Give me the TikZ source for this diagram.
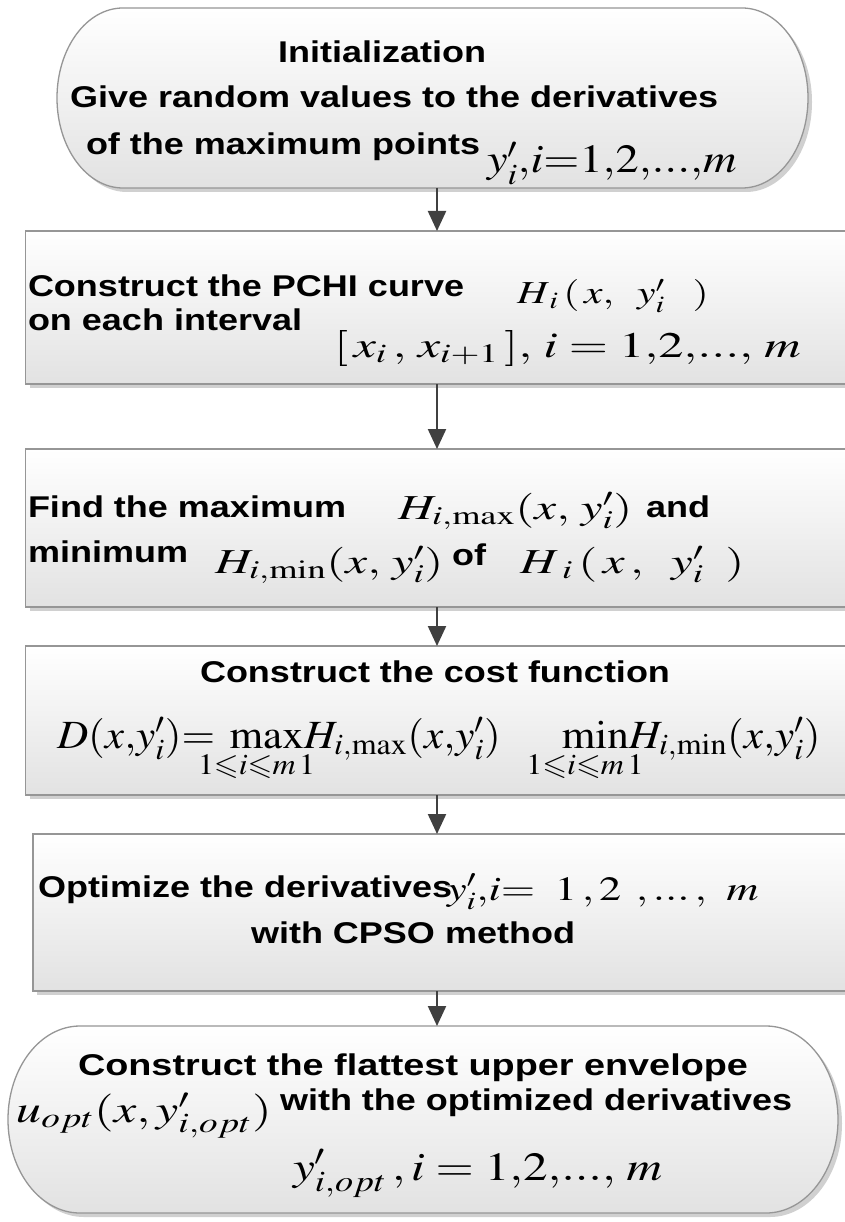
\documentclass[tikz,border=0pt]{standalone}
\usepackage{amssymb}
\usepackage{mathptmx}
\usepackage[no-math]{fontspec}
\setmainfont{Liberation Sans}
\usepackage{graphicx}
\usetikzlibrary{arrows.meta}
\definecolor{edgec}{RGB}{150,150,150}
\definecolor{fillc}{RGB}{226,226,226}
\definecolor{shadowc}{RGB}{208,208,208}
\definecolor{arrc}{RGB}{64,64,64}
\newcommand{\wx}[2][1.2]{\scalebox{#1}[1]{#2}}
\newcommand{\myfs}[1]{\fontsize{#1}{#1}\selectfont}
\newcommand{\lsub}[2]{\rlap{$\scriptstyle\hspace{#1}#2$}}
\tikzset{
  shbox/.style={preaction={fill=shadowc, transform canvas={xshift=4pt,yshift=-4pt}}},
  procbox/.style={shbox, draw=edgec, line width=1.3pt, top color=white, bottom color=fillc,
                  inner sep=0pt, outer sep=0pt, anchor=north west, rectangle},
  termshape/.style={shbox, draw=edgec, line width=1.3pt, top color=white, bottom color=fillc},
  framebox/.style={inner sep=0pt, outer sep=0pt, anchor=north west, draw=none, rectangle},
  arr/.style={draw=arrc, line width=2.2pt, -{Triangle[length=20pt,width=18pt]}},
  lab/.style={inner sep=0pt, outer sep=0pt, font=\bfseries\myfs{30}},
  mth/.style={inner sep=0pt, outer sep=0pt, font=\myfs{#1}},
}
\begin{document}
\begin{tikzpicture}[x=1pt,y=-1pt]
\fill[white] (0,0) rectangle (844,1222);
\useasboundingbox (0,0) rectangle (844,1222);

% ---- shapes ----
\node[framebox, minimum width=751pt, minimum height=180pt] (t1) at (57,8) {};
\path[termshape] (123,8) -- (742,8) arc[start angle=-90,end angle=90,x radius=66,y radius=90]
   -- (123,188) arc[start angle=90,end angle=270,x radius=66,y radius=90] -- cycle;

\node[procbox, minimum width=830pt, minimum height=153pt] (b2) at (25.7,231) {};
\node[procbox, minimum width=830pt, minimum height=158pt] (b3) at (25.7,449) {};
\node[procbox, minimum width=830pt, minimum height=149pt] (b4) at (25.7,646) {};
\node[procbox, minimum width=830pt, minimum height=157pt] (b5) at (33,834) {};

\node[framebox, minimum width=830pt, minimum height=187pt] (t2) at (8,1026) {};
\path[termshape] (80,1026) -- (766,1026) arc[start angle=-90,end angle=90,x radius=72,y radius=93.5]
   -- (80,1213) arc[start angle=90,end angle=270,x radius=72,y radius=93.5] -- cycle;

% ---- connectors ----
\coordinate (ax) at (437,0);
\draw[arr] (t1.south -| ax) -- (b2.north -| ax);
\draw[arr] (b2.south -| ax) -- (b3.north -| ax);
\draw[arr] (b3.south -| ax) -- (b4.north -| ax);
\draw[arr] (b4.south -| ax) -- (b5.north -| ax);
\draw[arr] (b5.south -| ax) -- (t2.north -| ax);

% ---- terminal 1 text ----
\node[lab, anchor=base] (t1l1) at (382,63) {\wx{Initialization}};
\node[lab, anchor=base west] (t1l2) at (70,108) {\wx{Give random values to the derivatives}};
\node[lab, anchor=base west] (t1l3) at (86,155) {\wx{of the maximum points}};
\node[mth=40, anchor=base west] (t1m) at (487,173) {\wx[1.16]{$y'_i{,}i{=}1{,}2{,}...{,}m$}};

% ---- box 2 text ----
\node[lab, anchor=base west] (b2l1) at (28,297) {\wx{Construct the PCHI curve}};
\node[lab, anchor=base west] (b2l2) at (28,330) {\wx{on each interval}};
\node[mth=32, anchor=base west] (b2m1) at (517,304) {\wx[1.3]{$H_{\,i}\,(\,x,\;\; y'_i\;\;\;)$}};
\node[mth=36, anchor=base west] (b2m2) at (334,357) {\wx[1.4]{$[\,x_i\,,\,x_{i+1}\,],\,i = 1{,}2{,}...{,}\;m$}};

% ---- box 3 text ----
\node[lab, anchor=base west] (b3l1) at (28,517) {\wx{Find the maximum}};
\node[mth=35, anchor=base west] (b3m1) at (398,519) {\wx[1.4]{$H_{i,\max}(x,\,y'_i)$}};
\node[lab, anchor=base west] (b3l2) at (646,517) {\wx{and}};
\node[lab, anchor=base west] (b3l3) at (28,562) {\wx{minimum}};
\node[mth=35, anchor=base west] (b3m2) at (215,573) {\wx[1.4]{$H_{i,\min}(x,\,y'_i)$}};
\node[lab, anchor=base west] (b3l4) at (452,565) {\wx{of}};
\node[mth=35, anchor=base west] (b3m3) at (520,573) {\wx[1.4]{$H_{\;i}\,(\,x\,,\;\;y'_i\;\;)$}};

% ---- box 4 text ----
\node[lab, anchor=base] (b4l1) at (435,682) {\wx{Construct the cost function}};
\node[mth=40, anchor=base west] (b4m) at (57,748) {\wx[1.08]{$D(x{,}y'_i){=}\;\mathop{\mathrm{max}}\limits_{\lsub{-24pt}{1\leqslant i\leqslant m\,1}}\!H_{i,\max}(x{,}y'_i)\hspace{52pt}\mathop{\mathrm{min}}\limits_{\lsub{-26pt}{1\leqslant i\leqslant m\,1}}\!H_{i,\min}(x{,}y'_i)$}};

% ---- box 5 text ----
\node[lab, anchor=base west] (b5l1) at (38,897) {\wx{Optimize the derivatives}};
\node[mth=34, anchor=base west] (b5m) at (447,900) {\wx[1.3]{$y'_i{,}i{=}\;\;1\,{,}\,2\;\,{,}\,...\,{,}\;\;m$}};
\node[lab, anchor=base] (b5l2) at (413,943) {\wx{with CPSO method}};

% ---- terminal 2 text ----
\node[lab, anchor=base] (t2l1) at (413,1075) {\wx[1.26]{Construct the flattest upper envelope}};
\node[mth=38, anchor=base west] (t2m1) at (16,1122) {\wx[1.33]{$u_{opt}(x,y'_{i,opt})$}};
\node[lab, anchor=base west] (t2l2) at (280,1110) {\wx{with the optimized derivatives}};
\node[mth=40, anchor=base west] (t2m2) at (293,1180) {\wx[1.23]{$y'_{i,opt}\,,i = 1{,}2{,}...{,}\; m$}};
\end{tikzpicture}
\end{document}
